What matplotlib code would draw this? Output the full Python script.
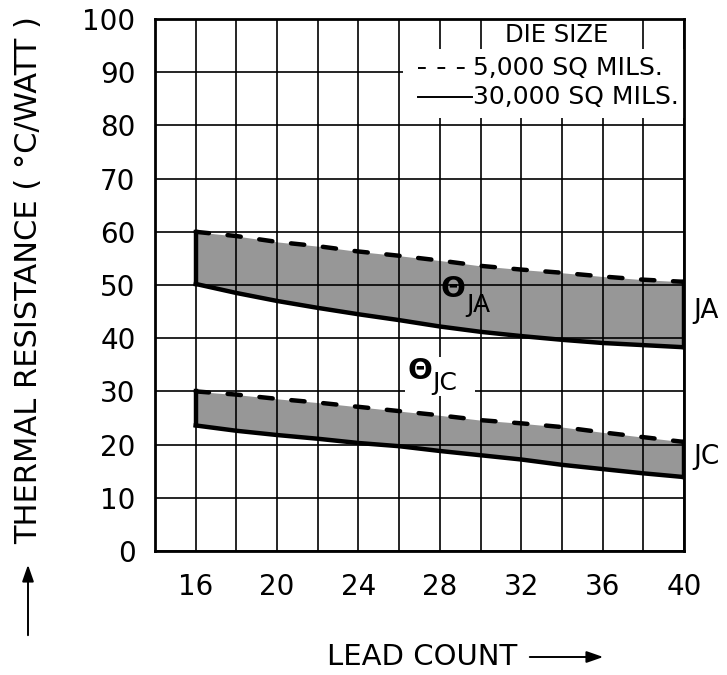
import matplotlib
matplotlib.use("Agg")
import matplotlib.pyplot as plt
from matplotlib.patches import Rectangle, FancyArrowPatch

plt.rcParams['font.family'] = ['DejaVu Sans']

# Lead counts and thermal resistance (°C/W) band edges
lead_count = [16, 18, 20, 22, 24, 26, 28, 30, 32, 34, 36, 38, 40]
ja_small_die = [60.0, 59.2, 58.1, 57.3, 56.3, 55.5, 54.6, 53.6, 52.9, 52.3, 51.6, 51.0, 50.6]
ja_large_die = [50.2, 48.5, 47.0, 45.7, 44.5, 43.4, 42.2, 41.2, 40.4, 39.7, 39.1, 38.7, 38.3]
jc_small_die = [30.0, 29.4, 28.6, 27.9, 27.1, 26.3, 25.5, 24.6, 24.0, 23.3, 22.3, 21.4, 20.5]
jc_large_die = [23.6, 22.6, 21.8, 21.1, 20.3, 19.7, 18.8, 18.0, 17.2, 16.2, 15.4, 14.6, 13.9]

x_tick_labels = [16, 20, 24, 28, 32, 36, 40]
y_tick_labels = list(range(0, 101, 10))

fig = plt.figure(figsize=(7.27, 6.75), dpi=100)
ax = fig.add_axes([155 / 727, 124 / 675, 529 / 727, 532 / 675])

ax.set_xlim(14, 40)
ax.set_ylim(0, 100)
ax.set_xticks(x_tick_labels)
ax.set_xticks(list(range(14, 41, 2)), minor=True)
ax.set_yticks(y_tick_labels)
ax.tick_params(which='both', length=0)
ax.tick_params(axis='x', pad=16, labelsize=20)
ax.tick_params(axis='y', pad=14, labelsize=20)
ax.set_axisbelow(True)
ax.grid(which='both', color='black', linewidth=1.2)
for s in ax.spines.values():
    s.set_linewidth(2.0)

band_color = '#979797'
for top, bot in [(ja_small_die, ja_large_die), (jc_small_die, jc_large_die)]:
    ax.fill_between(lead_count, bot, top, color=band_color, zorder=0.3, linewidth=0)
    ax.plot(lead_count, top, color='black', linewidth=3.2, dashes=(3, 4.2),
            dash_capstyle='round', zorder=3)
    ax.plot(lead_count, bot, color='black', linewidth=3.2, zorder=3)
    ax.plot([lead_count[0], lead_count[0]], [bot[0], top[0]], color='black', linewidth=3.2, zorder=3)
    ax.plot([lead_count[-1], lead_count[-1]], [bot[-1], top[-1]], color='black', linewidth=3.2, zorder=3)

# Legend area
ax.add_patch(Rectangle((26.2, 81.4), 13.8, 12.9, facecolor='white', edgecolor='none', zorder=0.8))
ax.add_patch(Rectangle((30.2, 94.0), 7.2, 6.0, facecolor='white', edgecolor='none', zorder=0.8))
ax.text(33.75, 96.9, 'DIE SIZE', ha='center', va='center', fontsize=17.5, zorder=4)
ax.plot([26.95, 29.6], [90.8, 90.8], color='black', linewidth=1.4, dashes=(4, 6), zorder=4)
ax.plot([26.95, 29.6], [85.3, 85.3], color='black', linewidth=1.4, zorder=4)
ax.text(29.65, 90.8, '5,000 SQ MILS.', ha='left', va='center', fontsize=18, zorder=4)
ax.text(29.65, 85.3, '30,000 SQ MILS.', ha='left', va='center', fontsize=18, zorder=4)

# Band annotations
ax.add_patch(Rectangle((26.29, 29.2), 3.45, 7.2, facecolor='white', edgecolor='none', zorder=0.8))
ax.text(28.05, 49.2, 'Θ', fontsize=21, fontweight='bold', ha='left', va='center', zorder=4)
ax.text(29.3, 46.2, 'JA', fontsize=18, ha='left', va='center', zorder=4)
ax.text(26.4, 33.9, 'Θ', fontsize=21, fontweight='bold', ha='left', va='center', zorder=4)
ax.text(27.65, 31.5, 'JC', fontsize=18, ha='left', va='center', zorder=4)
ax.text(40.45, 45.1, 'JA', fontsize=19, ha='left', va='center', clip_on=False)
ax.text(40.45, 17.7, 'JC', fontsize=19, ha='left', va='center', clip_on=False)

# Axis titles with direction arrows
fig.text(28.5 / 727, 1 - 280 / 675, 'THERMAL RESISTANCE ( °C/WATT )', rotation=90,
         ha='center', va='center', fontsize=22)
fig.add_artist(FancyArrowPatch(
    (28, 37), (28, 113), transform=None, arrowstyle='-|>,head_length=10,head_width=3.5',
    color='black', linewidth=1.4))
fig.text(327 / 727, 1 - 657 / 675, 'LEAD COUNT', ha='left', va='center', fontsize=21)
fig.add_artist(FancyArrowPatch(
    (527, 18), (606, 18), transform=None, arrowstyle='-|>,head_length=10,head_width=3.5',
    color='black', linewidth=1.4))

fig.savefig('out.png', dpi=100)
